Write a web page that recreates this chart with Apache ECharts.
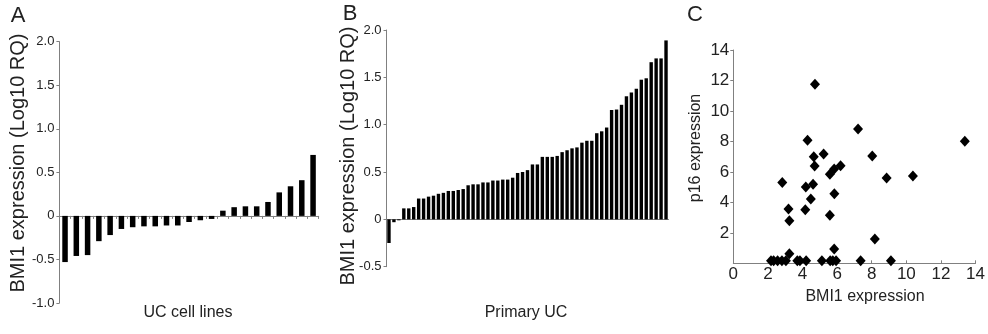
<!DOCTYPE html>
<html>
<head>
<meta charset="utf-8">
<script src="https://cdn.jsdelivr.net/npm/echarts@6/dist/echarts.min.js"></script>
<style>
  html, body { margin: 0; padding: 0; background: #fff; }
  #chart { width: 988px; height: 334px; }
</style>
</head>
<body>
<div id="chart"></div>
<script>
// panel A: UC cell lines, log10 RQ
const cellLineValues = [-0.53, -0.46, -0.45, -0.29, -0.22, -0.15, -0.13, -0.12, -0.12, -0.11, -0.11, -0.07,
  -0.05, -0.035, 0.06, 0.10, 0.11, 0.11, 0.16, 0.27, 0.34, 0.41, 0.70]

// panel B: primary UC, log10 RQ
const primaryValues = [-0.25, -0.03, -0.01, 0.116, 0.116, 0.13, 0.22, 0.22, 0.24, 0.25, 0.27, 0.28, 0.30,
  0.30, 0.31, 0.32, 0.36, 0.37, 0.37, 0.39, 0.39, 0.41, 0.41, 0.42, 0.42, 0.44, 0.49, 0.50, 0.52,
  0.58, 0.58, 0.66, 0.66, 0.66, 0.67, 0.71, 0.73, 0.75, 0.76, 0.81, 0.83, 0.83, 0.91, 0.93, 0.97,
  1.155, 1.16, 1.21, 1.30, 1.34, 1.38, 1.475, 1.49, 1.66, 1.70, 1.70, 1.89]

// panel C: [BMI1 expression, p16 expression]
const scatterPoints = [
  [4.72, 11.75], [7.21, 8.82], [4.29, 8.07], [13.38, 8.01], [5.22, 7.18], [4.65, 7.0], [8.03, 7.05],
  [4.70, 6.39], [6.20, 6.41], [5.83, 6.19], [5.58, 5.84], [2.83, 5.30], [8.86, 5.60], [10.38, 5.73],
  [4.61, 5.19], [4.19, 5.01], [5.84, 4.57], [4.48, 4.22], [3.19, 3.57], [4.16, 3.52], [5.58, 3.15],
  [3.24, 2.80], [8.18, 1.60], [3.24, 0.63], [5.83, 0.94],
  [2.18, 0.17], [2.33, 0.17], [2.56, 0.17], [2.81, 0.17], [3.04, 0.17], [3.70, 0.17], [3.85, 0.17],
  [4.21, 0.17], [5.12, 0.17], [5.60, 0.17], [5.75, 0.17], [5.94, 0.17], [7.36, 0.17], [9.11, 0.17]
]

const rqTicks = { min: -1, max: 2, interval: 0.5 }
const rqTicksB = { min: -0.5, max: 2, interval: 0.5 }
const p16Ticks = { min: 0, max: 14, interval: 2 }

const axisColor = '#808080'
const textColor = '#222'
const fontFamily = '"Liberation Sans", Arial, sans-serif'

const chart = echarts.init(document.getElementById('chart'), null, { renderer: 'canvas' })

const rqFormatter = v => (v === 0 ? '0' : v.toFixed(1))

function valueYAxis(gridIndex, ticks, fontSize, formatter) {
  return {
    type: 'value',
    gridIndex: gridIndex,
    min: ticks.min,
    max: ticks.max,
    interval: ticks.interval,
    splitLine: { show: false },
    axisLine: { show: true, lineStyle: { color: axisColor, width: 1 } },
    axisTick: { show: true, length: 3, lineStyle: { color: axisColor } },
    axisLabel: { color: textColor, fontSize: fontSize, fontFamily: fontFamily, margin: 5, formatter: formatter }
  }
}

function nameText(text, x, y, size, rotate) {
  return {
    type: 'text',
    x: x,
    y: y,
    rotation: rotate ? Math.PI / 2 : 0,
    style: {
      text: text,
      fill: textColor,
      font: size + 'px ' + fontFamily,
      align: 'center',
      verticalAlign: 'middle'
    }
  }
}

const option = {
  animation: false,
  backgroundColor: '#fff',
  grid: [
    { left: 59.4, top: 41.7, width: 259.3, height: 261.3 },
    { left: 386.5, top: 30, width: 282, height: 236.7 },
    { left: 733.3, top: 50, width: 246, height: 213.3 }
  ],
  xAxis: [
    {
      type: 'category',
      gridIndex: 0,
      data: cellLineValues.map((v, i) => String(i + 1)),
      axisLine: { onZero: true, lineStyle: { color: axisColor } },
      axisTick: { show: true, length: 3, interval: 0, lineStyle: { color: axisColor } },
      axisLabel: { show: false }
    },
    {
      type: 'category',
      gridIndex: 1,
      data: primaryValues.map((v, i) => String(i + 1)),
      axisLine: { onZero: true, lineStyle: { color: axisColor } },
      axisTick: { show: false },
      axisLabel: { show: false }
    },
    {
      type: 'value',
      gridIndex: 2,
      min: p16Ticks.min,
      max: p16Ticks.max,
      interval: p16Ticks.interval,
      splitLine: { show: false },
      axisLine: { show: true, lineStyle: { color: axisColor } },
      axisTick: { show: true, length: 3, inside: true, lineStyle: { color: axisColor } },
      axisLabel: { color: textColor, fontSize: 17, fontFamily: fontFamily, margin: 3 }
    }
  ],
  yAxis: [
    valueYAxis(0, rqTicks, 13, rqFormatter),
    valueYAxis(1, rqTicksB, 13, rqFormatter),
    Object.assign(valueYAxis(2, p16Ticks, 17), {
      axisLabel: { color: textColor, fontSize: 17, fontFamily: fontFamily, margin: 4, showMinLabel: false }
    })
  ],
  series: [
    {
      type: 'bar',
      xAxisIndex: 0,
      yAxisIndex: 0,
      barWidth: 5.5,
      itemStyle: { color: '#000' },
      data: cellLineValues
    },
    {
      type: 'bar',
      xAxisIndex: 1,
      yAxisIndex: 1,
      barWidth: 3.4,
      itemStyle: { color: '#000' },
      data: primaryValues
    },
    {
      type: 'scatter',
      xAxisIndex: 2,
      yAxisIndex: 2,
      symbol: 'diamond',
      symbolSize: [10, 11],
      itemStyle: { color: '#000', opacity: 1 },
      data: scatterPoints
    }
  ],
  graphic: [
    nameText('A', 18, 16, 22),
    nameText('B', 350, 14, 22),
    nameText('C', 695, 15, 22),
    nameText('BMI1 expression (Log10 RQ)', 18, 163, 20, true),
    nameText('BMI1 expression (Log10 RQ)', 348, 156, 20, true),
    nameText('p16 expression', 696, 148, 16, true),
    nameText('UC cell lines', 188, 313, 16),
    nameText('Primary UC', 526, 313, 16),
    nameText('BMI1 expression', 865, 297, 16)
  ]
}

chart.setOption(option)
</script>
</body>
</html>
